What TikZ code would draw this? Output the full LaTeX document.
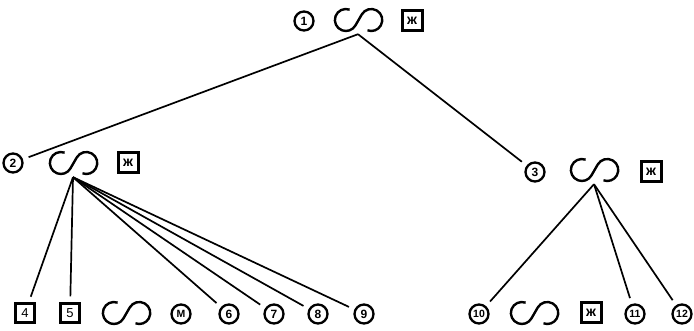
\documentclass[tikz,border=0pt]{standalone}
\usepackage{fontspec}
\setmainfont{Liberation Sans}
\begin{document}
\begin{tikzpicture}[x=1pt,y=-1pt,
  num/.style={circle,draw,line width=2.3pt,minimum size=19pt,inner sep=0pt,font=\bfseries\fontsize{12}{12}\selectfont},
  numsmall/.style={num,font=\bfseries\fontsize{10.5}{10.5}\selectfont},
  sqnum/.style={rectangle,draw,line width=2.2pt,minimum size=19pt,inner sep=0pt,font=\fontsize{13}{13}\selectfont},
  zhe/.style={rectangle,draw,line width=3pt,minimum size=20pt,inner sep=0pt,font=\bfseries\fontsize{14}{14}\selectfont},
  wave/.style={minimum width=56pt,minimum height=28pt,inner sep=0pt,
    path picture={\draw[line width=2.4pt]
      ([shift={(-8.37pt,10.34pt)}]path picture bounding box.center)
      arc[start angle=70,end angle=330,radius=11pt] -- ++(60:12.7pt)
      arc[start angle=150,end angle=-110,radius=11pt];}},
  edge/.style={line width=1.7pt,shorten >=6pt}]
  \useasboundingbox (0,0) rectangle (694,331);

  % top
  \node[num]  (c1) at (304,21) {1};
  \node[wave] (s1) at (358,20) {};
  \node[zhe]  (k1) at (412,21) {ж};

  % second row
  \node[num]  (c2) at (13,163) {2};
  \node[wave] (s2) at (73,163) {};
  \node[zhe]  (k2) at (128,163) {ж};

  \node[num]  (c3) at (535,172) {3};
  \node[wave] (s3) at (594,170) {};
  \node[zhe]  (k3) at (651,172) {ж};

  % bottom row
  \node[sqnum]    (b4)  at (25,313)  {4};
  \node[sqnum]    (b5)  at (70,313)  {5};
  \node[wave]     (s4)  at (126,313) {};
  \node[numsmall] (cm)  at (181,314) {M};
  \node[num]      (c6)  at (229,314) {6};
  \node[num]      (c7)  at (274,314) {7};
  \node[num]      (c8)  at (318,314) {8};
  \node[num]      (c9)  at (364,314) {9};
  \node[numsmall] (c10) at (479,314) {10};
  \node[wave]     (s5)  at (534,313) {};
  \node[zhe]      (k4)  at (591,313) {ж};
  \node[numsmall] (c11) at (635,314) {11};
  \node[numsmall] (c12) at (682,314) {12};

  % connectors
  \draw[edge] (s1.south) -- (c2);
  \draw[edge] (s1.south) -- (c3);
  \foreach \t in {b4,b5,c6,c7,c8,c9}
    \draw[edge] (s2.south) -- (\t);
  \foreach \t in {c10,c11,c12}
    \draw[edge] (s3.south) -- (\t);
\end{tikzpicture}
\end{document}
